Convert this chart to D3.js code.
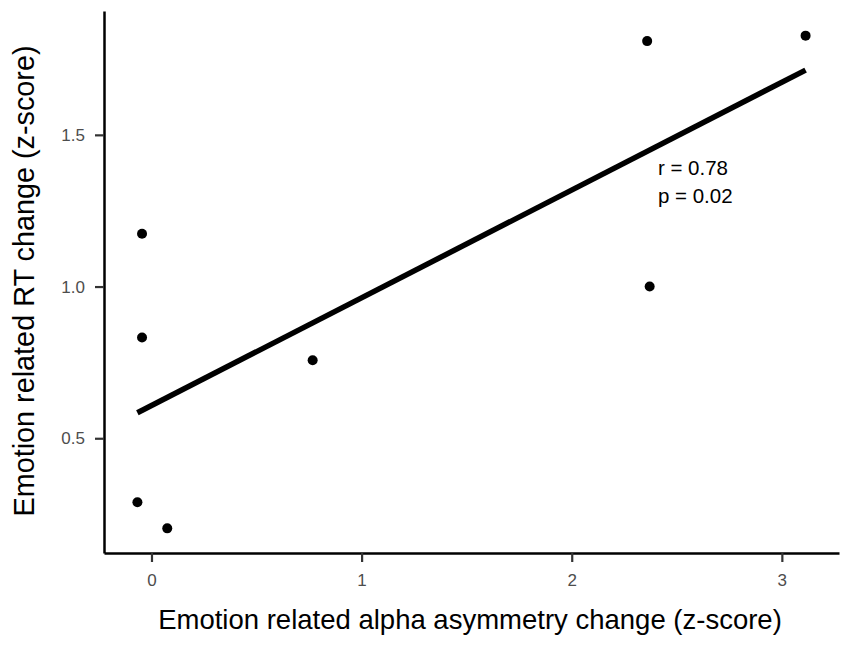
<!DOCTYPE html>
<html>
<head>
<meta charset="utf-8">
<script src="https://cdn.jsdelivr.net/npm/d3@7"></script>
<style>
  body { margin: 0; background: #fff; }
  svg { font-family: "Liberation Sans", Arial, sans-serif; }
</style>
</head>
<body>
<svg id="chart" width="850" height="645"></svg>
<script>
// data
var alphaChange = [-0.067, 0.075, -0.045, -0.045, 0.767, 2.359, 2.371, 3.113]
var rtChange    = [0.289, 0.203, 1.174, 0.832, 0.757, 1.809, 1.000, 1.827]
var xTicks = [0, 1, 2, 3]
var yTicks = [0.5, 1.0, 1.5]
var statLabels = ['r = 0.78', 'p = 0.02']
var statPos = [[2.41, 1.368], [2.41, 1.276]]

var svg = d3.select('#chart')
var mLeft = 104, mRight = 839, mTop = 11, mBottom = 553

var points = alphaChange.map((d, i) => ({x: d, y: rtChange[i]}))

// ggplot style 5% expansion
var xExt = d3.extent(alphaChange), yExt = d3.extent(rtChange)
var xPad = (xExt[1] - xExt[0]) * 0.05, yPad = (yExt[1] - yExt[0]) * 0.05

var x = d3.scaleLinear().domain([xExt[0] - xPad, xExt[1] + xPad]).range([mLeft, mRight])
var y = d3.scaleLinear().domain([yExt[0] - yPad, yExt[1] + yPad]).range([mBottom, mTop])

function styleAxis(g) {
  g.attr('font-size', 17).attr('font-family', '"Liberation Sans", Arial, sans-serif')
  g.select('.domain').attr('stroke', '#000').attr('stroke-width', 2.5)
  g.selectAll('.tick line').attr('stroke', '#333').attr('stroke-width', 2.2)
  g.selectAll('.tick text').attr('fill', '#4d4d4d')
}

// Axes
svg.append('g')
  .attr('transform', `translate(0,${mBottom})`)
  .call(d3.axisBottom(x).tickValues(xTicks).tickFormat(d3.format('d')).tickSize(9).tickPadding(12).tickSizeOuter(0))
  .call(styleAxis)
svg.append('g')
  .attr('transform', `translate(${mLeft},0)`)
  .call(d3.axisLeft(y).tickValues(yTicks).tickFormat(d3.format('.1f')).tickSize(9).tickPadding(10).tickSizeOuter(0))
  .call(styleAxis)

// Least squares line over the data range
var mx = d3.mean(alphaChange), my = d3.mean(rtChange)
var sxy = d3.sum(points, d => (d.x - mx) * (d.y - my))
var sxx = d3.sum(points, d => (d.x - mx) * (d.x - mx))
var slope = sxy / sxx, icept = my - slope * mx
var fit = xExt.map(d => ({x: d, y: icept + slope * d}))

svg.append('path')
  .datum(fit)
  .attr('d', d3.line().x(d => x(d.x)).y(d => y(d.y)))
  .attr('stroke', '#000')
  .attr('stroke-width', 5.5)
  .attr('fill', 'none')

// Points
svg.append('g').selectAll('circle').data(points)
  .enter().append('circle')
  .attr('cx', d => x(d.x))
  .attr('cy', d => y(d.y))
  .attr('r', 5)
  .attr('fill', '#000')

// Stats
svg.append('g').selectAll('text').data(statLabels)
  .enter().append('text')
  .attr('x', (d, i) => x(statPos[i][0]))
  .attr('y', (d, i) => y(statPos[i][1]))
  .attr('font-size', 20.5)
  .attr('fill', '#000')
  .text(d => d)

// Titles
svg.append('text')
  .attr('x', 470)
  .attr('y', 629)
  .attr('text-anchor', 'middle')
  .attr('font-size', 27.5)
  .attr('fill', '#000')
  .text('Emotion related alpha asymmetry change (z-score)')

svg.append('text')
  .attr('transform', `translate(34,281) rotate(-90)`)
  .attr('text-anchor', 'middle')
  .attr('font-size', 28.8)
  .attr('fill', '#000')
  .text('Emotion related RT change (z-score)')
</script>
</body>
</html>
